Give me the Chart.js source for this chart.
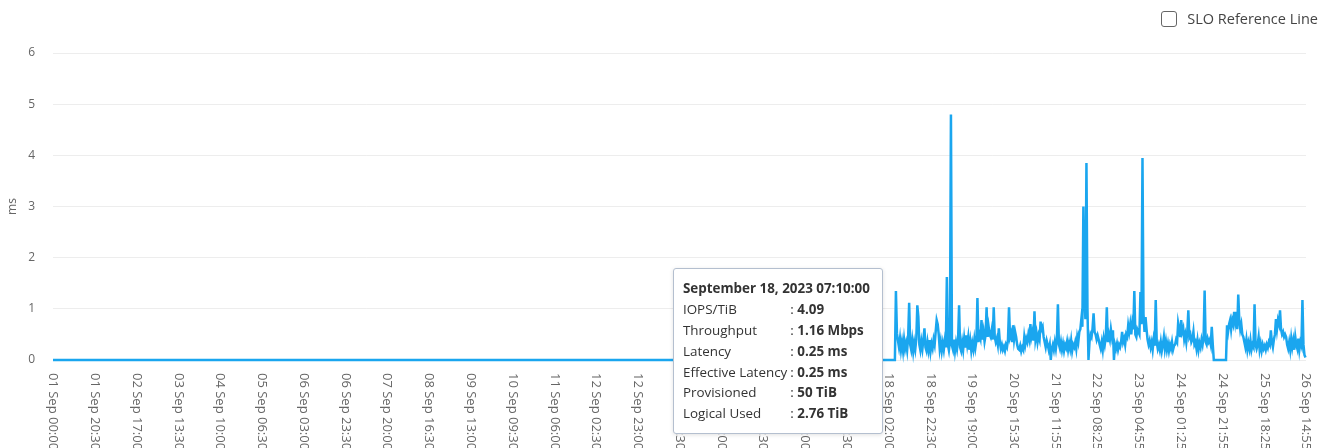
<!DOCTYPE html>
<html>
<head>
<meta charset="utf-8">
<script src="https://cdn.jsdelivr.net/npm/chart.js@4.4.0/dist/chart.umd.min.js"></script>
<style>
  html, body { margin: 0; padding: 0; background: #fff; }
  body { width: 1333px; height: 448px; overflow: hidden; position: relative; font-family: 'Open Sans', sans-serif; }
  #wrap { position: absolute; left: 0; top: 0; width: 1333px; height: 448px; }
  .slo { position: absolute; top: 9px; right: 15px; display: flex; align-items: center; font-size: 14.5px; color: #444; }
  .slo .box { width: 14px; height: 14px; border: 1.5px solid #666; border-radius: 3px; margin-right: 10px; }
  #tip { position: absolute; display: none; background: #fff; border: 1px solid #b4bfcf; border-radius: 3px;
         box-shadow: 0 1px 4px rgba(0,0,0,0.12); padding: 9px 12px 9px 9px; font-size: 13.4px; color: #333;
         pointer-events: none; white-space: nowrap; }
  #tip .title { font-weight: 700; line-height: 21px; }
  #tip table { border-collapse: collapse; }
  #tip td { padding: 0; line-height: 20.8px; }
  #tip td.k { padding-right: 3px; }
</style>
</head>
<body>
<div id="wrap"><canvas id="latencyChart" width="1333" height="448"></canvas></div>
<div class="slo"><span class="box"></span>SLO Reference Line</div>
<div id="tip"></div>
<script>
// x axis labels as shown on the chart
const tickLabels = [
  '01 Sep 00:00', '01 Sep 20:30', '02 Sep 17:00', '03 Sep 13:30', '04 Sep 10:00', '05 Sep 06:30',
  '06 Sep 03:00', '06 Sep 23:30', '07 Sep 20:00', '08 Sep 16:30', '09 Sep 13:00', '10 Sep 09:30',
  '11 Sep 06:00', '12 Sep 02:30', '12 Sep 23:00', '13 Sep 19:30', '14 Sep 16:00', '15 Sep 12:30',
  '16 Sep 09:00', '17 Sep 05:30', '18 Sep 02:00', '18 Sep 22:30', '19 Sep 19:00', '20 Sep 15:30',
  '21 Sep 11:55', '22 Sep 08:25', '23 Sep 04:55', '24 Sep 01:25', '24 Sep 21:55', '25 Sep 18:25',
  '26 Sep 14:55'
];

// latency is 0 from the start of the range until the volume becomes active
const idleStart = '01 Sep 00:00';
const activeStart = '18 Sep 05:10';
const sampleMinutes = 30;

// latency (ms), one sample every 30 minutes from activeStart
const latency = [
  0, 1.35, 0.52, 0.38, 0.25, 0.42, 0.2, 0.35, 0.18, 0.4,
  0.22, 0.33, 0.19, 0.45, 1.12, 0.3, 0.2, 0.38, 0.17, 0.34,
  0.21, 0.4, 1.07, 0.85, 0.3, 0.19, 0.36, 0.22, 0.41, 0.62,
  0.25, 0.18, 0.35, 0.2, 0.39, 0.17, 0.32, 0.23, 0.4, 0.3,
  0.55, 0.78, 0.7, 0.5, 0.22, 0.36, 0.18, 0.33, 0.2, 0.38,
  0.25, 1.62, 0.3, 0.19, 0.36, 4.8, 0.28, 0.2, 0.4, 0.18,
  0.34, 0.22, 0.39, 1.07, 0.25, 0.18, 0.35, 0.2, 0.42, 0.24,
  0.48, 0.3, 0.45, 0.2, 0.37, 0.18, 0.33, 0.21, 0.4, 0.24,
  0.38, 1.21, 0.35, 0.5, 0.42, 0.78, 0.4, 0.55, 0.36, 0.48,
  1.03, 0.45, 0.65, 0.5, 0.45, 0.58, 0.4, 1.03, 0.45, 0.35,
  0.42, 0.3, 0.62, 0.35, 0.22, 0.3, 0.2, 0.26, 0.18, 0.3,
  0.25, 0.4, 1.03, 0.45, 0.52, 0.35, 0.68, 0.4, 0.55, 0.45,
  0.3, 0.22, 0.2, 0.28, 0.17, 0.25, 0.2, 0.45, 0.3, 0.42,
  0.35, 0.5, 0.4, 0.7, 0.45, 0.55, 0.38, 0.95, 0.4, 0.52,
  0.35, 0.48, 0.4, 0.75, 0.6, 0.65, 0.45, 0.35, 0.25, 0.38,
  0.3, 0.2, 0.3, 0, 0.22, 0.3, 0.2, 0.35, 0.22, 0.4,
  1.09, 0.3, 0.22, 0.35, 0.2, 0.32, 0.18, 0.3, 0.24, 0.36,
  0.2, 0.33, 0.22, 0.38, 0.18, 0.3, 0.25, 0.35, 0.22, 0.45,
  0.35, 0.55, 0.6, 0.8, 0.65, 3.0, 1.2, 0.8, 3.85, 1.0,
  0, 0.35, 0.5, 0.45, 0.62, 0.91, 0.55, 0.5, 0.4, 0.48,
  0.4, 0.3, 0.22, 0.35, 0.2, 0.42, 0.3, 0.45, 1.03, 0.35,
  0.5, 0.4, 0.6, 0.45, 0.58, 0, 0.3, 0.22, 0.32, 0.2,
  0.3, 0.25, 0.35, 0.55, 0.35, 0.42, 0.3, 0.5, 0.45, 0.68,
  0.55, 0.7, 0.5, 0.72, 0.6, 1.35, 0.5, 0.45, 0.6, 0.55,
  0.5, 1.33, 0.7, 3.95, 0.9, 0.55, 0.84, 0.6, 0.4, 0.3,
  0.38, 0.25, 0.35, 0.2, 0.4, 0.28, 1.17, 0.35, 0.22, 0.3,
  0.2, 0.35, 0.18, 0.3, 0.45, 0.22, 0.36, 0.2, 0.32, 0.18,
  0.3, 0.22, 0.35, 0.2, 0.28, 0.3, 0.4, 0.35, 0.72, 0.6,
  0.45, 0.78, 0.55, 0.62, 0.4, 0.5, 0.35, 0.55, 0.97, 0.45,
  0.5, 0.35, 0.4, 0.55, 0.3, 0.35, 0.22, 0.38, 0.2, 0.33,
  0.25, 0.4, 0.3, 0.45, 1.36, 0.35, 0.3, 0.42, 0.35, 0.4,
  0.3, 0.65, 0.3, 0, 0, 0, 0, 0, 0, 0,
  0, 0, 0, 0, 0, 0, 0.68, 0.55, 0.7, 0.78,
  0.6, 0.78, 0.7, 0.94, 0.75, 0.94, 0.6, 1.28, 0.8, 0.6,
  0.7, 0.5, 0.45, 0.35, 0.25, 0.4, 0.2, 0.33, 0.22, 0.38,
  0.2, 0.3, 0.25, 1.09, 0.3, 0.22, 0.3, 0.45, 0.2, 0.32,
  0.18, 0.3, 0.22, 0.28, 0.2, 0.3, 0.24, 0.35, 0.3, 0.58,
  0.35, 0.25, 0.4, 0.5, 0.8, 0.6, 0.78, 0.7, 0.97, 0.6,
  0.5, 0.55, 0.45, 0.5, 0.45, 0.3, 0.22, 0.35, 0.2, 0.42,
  0.25, 0.38, 0.2, 0.45, 0.3, 0.22, 0.42, 0.2, 0.35, 0.28,
  1.17, 0.3, 0.1, 0.05
];

// hovered sample and the other metrics shown in its tooltip
const hoverIndex = 4;
const tooltipFields = ['IOPS/TiB', 'Throughput', 'Latency', 'Effective Latency', 'Provisioned', 'Logical Used'];
const tooltipValues = ['4.09', '1.16 Mbps', '0.25 ms', '0.25 ms', '50 TiB', '2.76 TiB'];

const lineColor = '#1aa6ef';
const monthNames = ['January', 'February', 'March', 'April', 'May', 'June', 'July',
  'August', 'September', 'October', 'November', 'December'];

// '18 Sep 02:00' -> hours since 01 Sep 00:00
function toHours(label) {
  const [day, , time] = label.split(' ');
  const [hh, mm] = time.split(':').map(Number);
  return (Number(day) - 1) * 24 + hh + mm / 60;
}

function formatTitle(hours) {
  const d = new Date(Date.UTC(2023, 8, 1) + Math.round(hours * 60) * 60000);
  const pad = n => String(n).padStart(2, '0');
  return `${monthNames[d.getUTCMonth()]} ${d.getUTCDate()}, ${d.getUTCFullYear()} ` +
    `${pad(d.getUTCHours())}:${pad(d.getUTCMinutes())}:00`;
}

const tickHours = tickLabels.map(toHours);
const startHour = toHours(activeStart);
const points = [{x: toHours(idleStart), y: 0}].concat(
  latency.map((v, i) => ({x: startHour + i * sampleMinutes / 60, y: v}))
);

// labels hang down from the axis, so the padding is the label length plus a gap
const measure = document.createElement('canvas').getContext('2d');
measure.font = '13px "Open Sans"';
const labelLength = Math.max(...tickLabels.map(t => measure.measureText(t).width));

function externalTooltip(context) {
  const {chart, tooltip} = context;
  const el = document.getElementById('tip');
  if (tooltip.opacity === 0 || !tooltip.dataPoints || !tooltip.dataPoints.length) {
    el.style.display = 'none';
    return;
  }
  const point = tooltip.dataPoints[0];
  let html = `<div class="title">${formatTitle(point.parsed.x)}</div><table>`;
  tooltipFields.forEach((f, i) => {
    html += `<tr><td class="k">${f}</td><td>: <b>${tooltipValues[i]}</b></td></tr>`;
  });
  el.innerHTML = html + '</table>';
  el.style.display = 'block';
  el.style.left = (chart.canvas.offsetLeft + tooltip.caretX - el.offsetWidth - 16) + 'px';
  el.style.top = (chart.canvas.offsetTop + tooltip.caretY - el.offsetHeight / 2 + 4) + 'px';
}

const latencyChart = new Chart(document.getElementById('latencyChart'), {
  type: 'line',
  data: {
    datasets: [{
      label: 'Latency',
      data: points,
      borderColor: lineColor,
      backgroundColor: lineColor,
      borderWidth: 2.5,
      pointRadius: 0,
      pointHoverRadius: 0,
      tension: 0,
      fill: false,
      clip: false
    }]
  },
  options: {
    responsive: false,
    animation: false,
    layout: { padding: { top: 53, right: 27, left: 5, bottom: 0 } },
    interaction: { mode: 'nearest', intersect: false, axis: 'x' },
    plugins: {
      legend: { display: false },
      tooltip: { enabled: false, external: externalTooltip }
    },
    scales: {
      x: {
        type: 'linear',
        min: 0,
        max: tickHours[tickHours.length - 1],
        grid: { display: false },
        border: { display: false },
        afterBuildTicks: scale => { scale.ticks = tickHours.map(v => ({value: v})); },
        afterFit: scale => {
          // keep the large label padding from widening the side margins
          scale.height = 88;
          scale.paddingLeft = 0;
          scale.paddingRight = 0;
        },
        ticks: {
          autoSkip: false,
          minRotation: -90,
          maxRotation: -90,
          padding: 5 + labelLength,
          color: '#666',
          font: { family: 'Open Sans', size: 13 },
          callback: (value, index) => tickLabels[index]
        }
      },
      y: {
        min: 0,
        max: 6,
        grid: { color: 'rgba(0,0,0,0.07)', drawTicks: false },
        border: { display: false },
        afterFit: scale => { scale.width = 48; },
        title: {
          display: true,
          text: 'ms',
          color: '#666',
          font: { family: 'Open Sans', size: 12 },
          padding: { top: 0, bottom: 9 }
        },
        ticks: {
          stepSize: 1,
          padding: 18,
          color: '#666',
          font: { family: 'Open Sans', size: 12 }
        }
      }
    }
  }
});

latencyChart.tooltip.setActiveElements([{datasetIndex: 0, index: hoverIndex + 1}], {x: 0, y: 0});
latencyChart.update();
</script>
</body>
</html>
